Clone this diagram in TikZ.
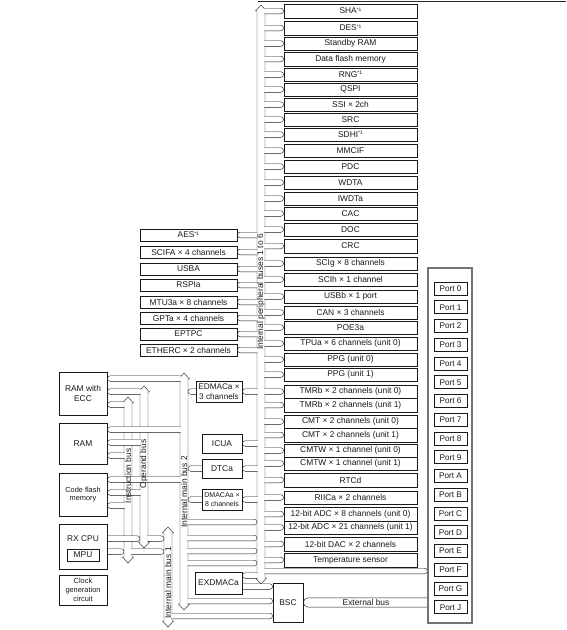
\documentclass[tikz,border=0pt]{standalone}
\usepackage{fontspec}
\setmainfont{Liberation Sans}
\usetikzlibrary{calc}

\pgfdeclarelayer{buses}
\pgfdeclarelayer{pipes}
\pgfsetlayers{buses,pipes,main}

\def\ph{2.8pt}
\newcommand{\noteone}{\raisebox{0.55ex}{\fontsize{5}{5}\selectfont*1}}

% pipe, rounded end on the right
\newcommand{\pipeR}[2]{%
  \path[pipepath] let \p1=(#1), \p2=(#2) in
    (\x1-0.6pt,\y1+\ph) -- (\x2-\ph,\y1+\ph)
    arc[start angle=90,end angle=-90,radius=\ph]
    -- (\x1-0.6pt,\y1-\ph);}
% pipe, rounded end on the left
\newcommand{\pipeL}[2]{%
  \path[pipepath] let \p1=(#1), \p2=(#2) in
    (\x2+0.6pt,\y1+\ph) -- (\x1+\ph,\y1+\ph)
    arc[start angle=90,end angle=270,radius=\ph]
    -- (\x2+0.6pt,\y1-\ph);}
% vertical bus with pointed ends
\newcommand{\busV}[4]{%
  \path[buspath] (#1,#3+6) -- (#1-1.5,#3+6) -- ({(#1+#2)/2},#3)
    -- (#2+1.5,#3+6) -- (#2,#3+6) -- (#2,#4-6) -- (#2+1.5,#4-6)
    -- ({(#1+#2)/2},#4) -- (#1-1.5,#4-6) -- (#1,#4-6) -- cycle;}

\begin{document}
\begin{tikzpicture}[
  x=1pt, y=-1pt,
  line width=0.85pt,
  txt/.style={font=\fontsize{8.4}{9.8}\selectfont, text=black!90, inner sep=0pt},
  smalltxt/.style={font=\fontsize{7.4}{8.8}\selectfont},
  blk/.style={txt, draw=black!90, fill=white, align=center},
  pbox/.style={blk, minimum width=133pt},
  lbox/.style={blk, minimum width=97pt, minimum height=12pt},
  portbox/.style={blk, font=\fontsize{8.2}{9}\selectfont, minimum width=33pt, minimum height=13pt},
  pipepath/.style={draw=black!90, fill=white},
  buspath/.style={draw=black!90, fill=white},
  buslabel/.style={txt, rotate=90}
]
  \useasboundingbox (0,0) rectangle (566,630);

  % rule at the top
  \draw[line width=1.5pt, black!85] (258,1.5) -- (566,1.5);

  % bus edges
  \coordinate (pbL) at (257,0);
  \coordinate (pbR) at (265,0);
  \coordinate (mb2L) at (180,0);
  \coordinate (mb2R) at (188,0);
  \coordinate (mb1L) at (164,0);
  \coordinate (mb1R) at (172,0);
  \coordinate (ibL) at (124,0);
  \coordinate (ibR) at (132,0);
  \coordinate (obL) at (140,0);
  \coordinate (obR) at (148,0);

  % peripheral modules, right
  \foreach \t/\b/\txt [count=\i] in {
    4/18/SHA\noteone, 21/35/DES\noteone, 37/50/Standby RAM,
    52/66/Data flash memory, 68/81/RNG\noteone, 83/96/QSPI,
    98/111/SSI × 2ch, 113/126/SRC, 128/141/SDHI\noteone,
    144/157/MMCIF, 160/173/PDC, 176/189/WDTA, 192/205/IWDTa,
    207/220/CAC, 223/236/DOC, 239/253/CRC,
    257/270/SCIg × 8 channels, 273/286/SCIh × 1 channel,
    290/303/USBb × 1 port, 306/319/CAN × 3 channels,
    321/334/POE3a, 337/350/TPUa × 6 channels (unit 0),
    353/366/PPG (unit 0), 368/381/PPG (unit 1),
    385/398/TMRb × 2 channels (unit 0), 398/412/TMRb × 2 channels (unit 1),
    415/428/CMT × 2 channels (unit 0), 428/442/CMT × 2 channels (unit 1),
    444/457/CMTW × 1 channel (unit 0), 457/470/CMTW × 1 channel (unit 1),
    473/487/RTCd, 491/504/RIICa × 2 channels,
    507/521/12-bit ADC × 8 channels (unit 0),
    521/534/12-bit ADC × 21 channels (unit 1),
    537/551/12-bit DAC × 2 channels, 553/567/Temperature sensor}
    \node[pbox, minimum height={(\b-\t)*1pt}] (r\i) at (350.5,{(\t+\b)/2}) {\txt};

  % peripheral modules, left
  \foreach \t/\txt [count=\i] in {
    229/AES\noteone, 246/SCIFA × 4 channels, 263/USBA, 279/RSPIa,
    296/MTU3a × 8 channels, 312/GPTa × 4 channels, 328/EPTPC,
    344/ETHERC × 2 channels}
    \node[lbox] (l\i) at (188.5,\t+6) {\txt};

  % ports
  \node[blk, draw=black!55, line width=1.3pt, minimum width=44pt,
    minimum height=355pt] (ports) at (450,445.5) {};
  \foreach \n [count=\k from 0] in {0,1,2,3,4,5,6,7,8,9,A,B,C,D,E,F,G,J}
    \node[portbox] (port\n) at (450.5,{288.5+\k*18.75}) {Port \n};

  % memories and CPU
  \node[blk, minimum width=48pt, minimum height=43pt] (ramecc) at (83,393.5) {RAM with\\ECC};
  \node[blk, minimum width=48pt, minimum height=41pt] (ram) at (83,443.5) {RAM};
  \node[blk, smalltxt, minimum width=48pt, minimum height=43pt] (flash) at (83,494.5) {Code flash\\memory};
  \node[blk, minimum width=48pt, minimum height=45pt] (cpu) at (83,546.5) {};
  \node[txt] (cputxt) at (83,539) {RX CPU};
  \node[blk, minimum width=32pt, minimum height=12pt] (mpu) at (83,555) {MPU};
  \node[blk, smalltxt, minimum width=48pt, minimum height=30pt] (clk) at (83,590) {Clock\\generation\\circuit};

  % DMA, interrupt, bus controller
  \node[blk, font=\fontsize{8.2}{10}\selectfont, minimum width=46pt, minimum height=21pt] (edmac) at (219,391.5) {EDMACa ×\\3 channels};
  \node[blk, minimum width=40pt, minimum height=19pt] (icua) at (222,443.5) {ICUA};
  \node[blk, minimum width=40pt, minimum height=19pt] (dtc) at (222,468.5) {DTCa};
  \node[blk, font=\fontsize{7}{8.6}\selectfont, minimum width=40pt, minimum height=21pt] (dmac) at (222,499.5) {DMACAa ×\\8 channels};
  \node[blk, minimum width=47pt, minimum height=22pt] (exdmac) at (218.5,583) {EXDMACa};
  \node[blk, minimum width=30pt, minimum height=39pt] (bsc) at (288,602.5) {BSC};

  % bus labels
  \node[buslabel] (pblbl) at (261,292) {Internal peripheral buses 1 to 6};
  \node[buslabel] (mb2lbl) at (184,492) {Internal main bus 2};
  \node[buslabel] (mb1lbl) at (168,583) {Internal main bus 1};
  \node[buslabel] (iblbl) at (128,476) {Instruction bus};
  \node[buslabel] (oblbl) at (144,464) {Operand bus};
  \node[txt] (extlbl) at (366,602.5) {External bus};

  % buses
  \begin{pgfonlayer}{buses}
    \busV{257}{265}{5}{584}
    \busV{180}{188}{373}{610}
    \busV{164}{172}{527}{627}
    \busV{124}{132}{397}{563}
    \busV{140}{148}{386}{548}
  \end{pgfonlayer}

  % connections
  \begin{pgfonlayer}{pipes}
    \foreach \i in {1,...,36} {\pipeR{pbR |- r\i.west}{r\i.west}}
    \foreach \i in {1,...,8} {\pipeL{l\i.east}{pbL |- l\i.east}}
    \foreach \m in {ramecc,ram,flash} {
      \pipeL{$(\m.north east)+(0,7)$}{mb2L}
      \pipeL{$(\m.north east)+(0,20)$}{obL}
      \pipeL{$(\m.north east)+(0,33)$}{ibL}
    }
    \coordinate (c1) at ($(cpu.north east)+(0,15)$);
    \coordinate (c2) at ($(cpu.north east)+(0,28)$);
    \pipeR{c1}{obL}
    \pipeR{obR |- c1}{mb1L}
    \pipeR{c2}{ibL}
    \pipeR{ibR |- c2}{mb1L}
    \pipeL{mb2R |- edmac.west}{edmac.west}
    \pipeL{edmac.east}{pbL |- edmac.east}
    \pipeL{icua.east}{pbL |- icua.east}
    \pipeL{mb2R |- dtc.west}{dtc.west}
    \pipeL{dtc.east}{pbL |- dtc.east}
    \pipeL{mb2R |- dmac.west}{dmac.west}
    \pipeL{dmac.east}{pbL |- dmac.east}
    \foreach \yy in {522,538,551,563} {\pipeR{$(mb2R)+(0,\yy)$}{pbL}}
    \pipeL{$(exdmac.north east)+(0,4)$}{pbL}
    \pipeR{$(exdmac.north east)+(0,15)$}{bsc.west}
    \pipeR{$(mb2R)+(0,601)$}{bsc.west}
    \pipeR{$(mb1R)+(0,616)$}{bsc.west}
    \pipeR{$(pbR)+(0,571)$}{ports.west}
    % external bus
    \path[pipepath] let \p1=(bsc.east), \p2=(ports.west) in
      (\x2+0.6pt,\y1+4.6pt) -- (\x1+4.6pt,\y1+4.6pt)
      arc[start angle=90,end angle=270,radius=4.6pt]
      -- (\x2+0.6pt,\y1-4.6pt);
  \end{pgfonlayer}
\end{tikzpicture}
\end{document}
